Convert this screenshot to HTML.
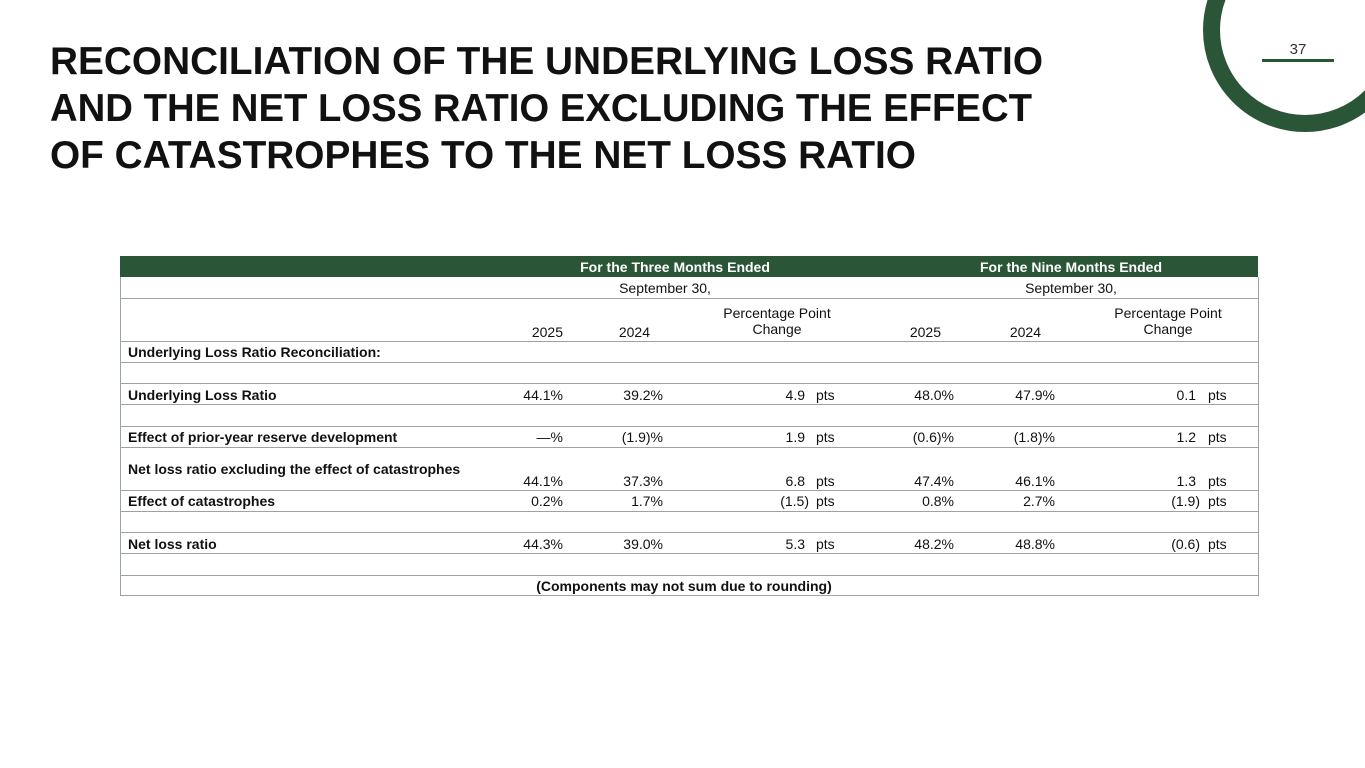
<!DOCTYPE html>
<html><head><meta charset="utf-8"><style>
body{margin:0;width:1365px;height:768px;background:#fff;position:relative;overflow:hidden;font-family:"Liberation Sans",sans-serif;color:#111}
.t{position:absolute;font-size:14px;white-space:nowrap;line-height:16px}
.r{text-align:right}
.c{text-align:center}
.b{font-weight:bold}
.hl{position:absolute;left:120px;width:1138px;height:1px;background:#9aa5a0}
</style></head><body>
<svg width="1365" height="768" style="position:absolute;left:0;top:0">
<circle cx="1305" cy="30" r="93.5" fill="none" stroke="#2b5537" stroke-width="17"/>
<rect x="1262" y="59" width="72" height="3" fill="#2b5537"/>
<text x="1298" y="54" font-family="Liberation Sans" font-size="15" fill="#333" text-anchor="middle">37</text>
<g font-family="Liberation Sans" font-weight="bold" font-size="39" fill="#111">
<text x="50" y="74" textLength="993" lengthAdjust="spacingAndGlyphs">RECONCILIATION OF THE UNDERLYING LOSS RATIO</text>
<text x="50" y="121" textLength="982" lengthAdjust="spacingAndGlyphs">AND THE NET LOSS RATIO EXCLUDING THE EFFECT</text>
<text x="50" y="168" textLength="866" lengthAdjust="spacingAndGlyphs">OF CATASTROPHES  TO THE NET LOSS RATIO</text>
</g>
</svg>
<div style="position:absolute;left:120px;top:256px;width:1138px;height:21px;background:#2b5537"></div>
<div style="position:absolute;left:120px;top:277px;width:1137px;height:318px;border:1px solid #9aa5a0;border-top:none"></div>
<div class="hl" style="top:298px"></div>
<div class="hl" style="top:341px"></div>
<div class="hl" style="top:362px"></div>
<div class="hl" style="top:383px"></div>
<div class="hl" style="top:404px"></div>
<div class="hl" style="top:426px"></div>
<div class="hl" style="top:447px"></div>
<div class="hl" style="top:490px"></div>
<div class="hl" style="top:511px"></div>
<div class="hl" style="top:532px"></div>
<div class="hl" style="top:553px"></div>
<div class="hl" style="top:575px"></div>

<div class="t b c" style="left:475px;width:400px;top:259px;color:#fff">For the Three Months Ended</div>
<div class="t b c" style="left:871px;width:400px;top:259px;color:#fff">For the Nine Months Ended</div>
<div class="t c" style="left:465px;width:400px;top:280px">September 30,</div>
<div class="t c" style="left:871px;width:400px;top:280px">September 30,</div>
<div class="t c" style="left:677px;width:200px;top:305px">Percentage Point<br>Change</div>
<div class="t c" style="left:1068px;width:200px;top:305px">Percentage Point<br>Change</div>
<div class="t r" style="left:463px;width:100px;top:324px">2025</div>
<div class="t r" style="left:550px;width:100px;top:324px">2024</div>
<div class="t r" style="left:841px;width:100px;top:324px">2025</div>
<div class="t r" style="left:941px;width:100px;top:324px">2024</div>

<div class="t b" style="left:128px;top:344px">Underlying Loss Ratio Reconciliation:</div>

<div class="t b" style="left:128px;top:387px">Underlying Loss Ratio</div>
<div class="t b" style="left:128px;top:429px">Effect of prior-year reserve development</div>
<div class="t b" style="left:128px;top:461px">Net loss ratio excluding the effect of catastrophes</div>
<div class="t b" style="left:128px;top:493px">Effect of catastrophes</div>
<div class="t b" style="left:128px;top:536px">Net loss ratio</div>
<div class="t b c" style="left:384px;width:600px;top:578px">(Components may not sum due to rounding)</div>

<!-- data rows -->
<div class="t r" style="left:443px;width:120px;top:387px">44.1%</div>
<div class="t r" style="left:543px;width:120px;top:387px">39.2%</div>
<div class="t r" style="left:685px;width:120px;top:387px">4.9</div>
<div class="t" style="left:816px;top:387px">pts</div>
<div class="t r" style="left:834px;width:120px;top:387px">48.0%</div>
<div class="t r" style="left:935px;width:120px;top:387px">47.9%</div>
<div class="t r" style="left:1076px;width:120px;top:387px">0.1</div>
<div class="t" style="left:1208px;top:387px">pts</div>

<div class="t r" style="left:443px;width:120px;top:429px">—%</div>
<div class="t r" style="left:543px;width:120px;top:429px">(1.9)%</div>
<div class="t r" style="left:685px;width:120px;top:429px">1.9</div>
<div class="t" style="left:816px;top:429px">pts</div>
<div class="t r" style="left:834px;width:120px;top:429px">(0.6)%</div>
<div class="t r" style="left:935px;width:120px;top:429px">(1.8)%</div>
<div class="t r" style="left:1076px;width:120px;top:429px">1.2</div>
<div class="t" style="left:1208px;top:429px">pts</div>

<div class="t r" style="left:443px;width:120px;top:473px">44.1%</div>
<div class="t r" style="left:543px;width:120px;top:473px">37.3%</div>
<div class="t r" style="left:685px;width:120px;top:473px">6.8</div>
<div class="t" style="left:816px;top:473px">pts</div>
<div class="t r" style="left:834px;width:120px;top:473px">47.4%</div>
<div class="t r" style="left:935px;width:120px;top:473px">46.1%</div>
<div class="t r" style="left:1076px;width:120px;top:473px">1.3</div>
<div class="t" style="left:1208px;top:473px">pts</div>

<div class="t r" style="left:443px;width:120px;top:493px">0.2%</div>
<div class="t r" style="left:543px;width:120px;top:493px">1.7%</div>
<div class="t r" style="left:685px;width:124px;top:493px">(1.5)</div>
<div class="t" style="left:816px;top:493px">pts</div>
<div class="t r" style="left:834px;width:120px;top:493px">0.8%</div>
<div class="t r" style="left:935px;width:120px;top:493px">2.7%</div>
<div class="t r" style="left:1076px;width:124px;top:493px">(1.9)</div>
<div class="t" style="left:1208px;top:493px">pts</div>

<div class="t r" style="left:443px;width:120px;top:536px">44.3%</div>
<div class="t r" style="left:543px;width:120px;top:536px">39.0%</div>
<div class="t r" style="left:685px;width:120px;top:536px">5.3</div>
<div class="t" style="left:816px;top:536px">pts</div>
<div class="t r" style="left:834px;width:120px;top:536px">48.2%</div>
<div class="t r" style="left:935px;width:120px;top:536px">48.8%</div>
<div class="t r" style="left:1076px;width:124px;top:536px">(0.6)</div>
<div class="t" style="left:1208px;top:536px">pts</div>
</body></html>
